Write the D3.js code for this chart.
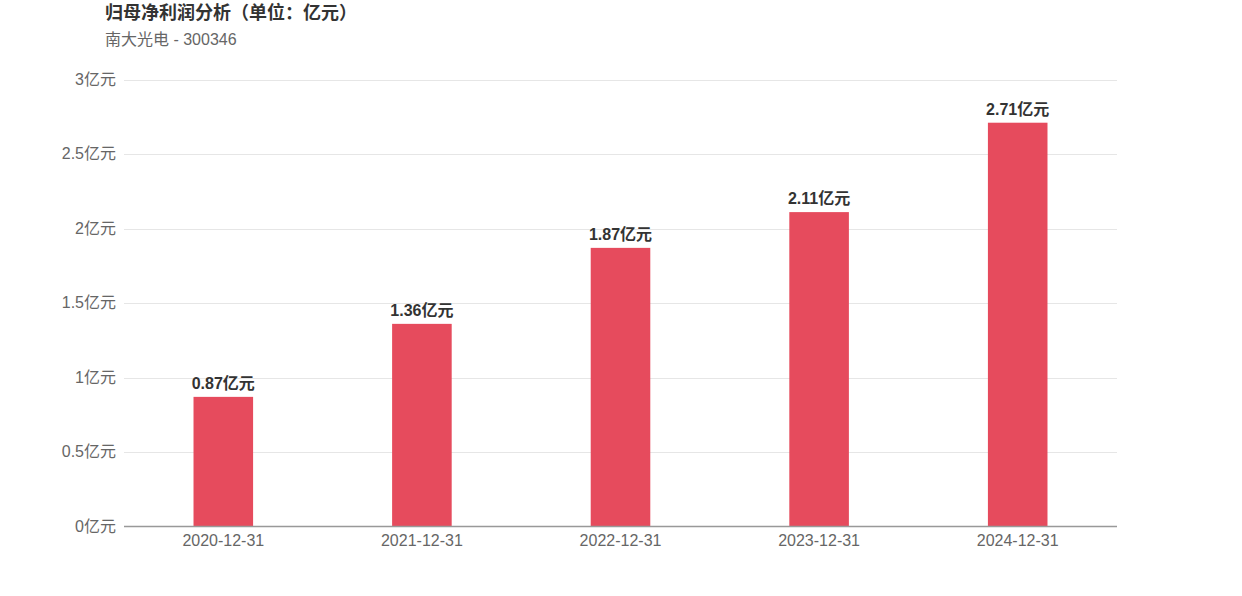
<!DOCTYPE html>
<html>
<head>
<meta charset="utf-8">
<script src="https://cdn.jsdelivr.net/npm/d3@7"></script>
<style>
  body { margin: 0; background: #fff; }
  svg { display: block; font-family: "Liberation Sans", "Noto Sans CJK SC", sans-serif; }
  .t_title { font-size: 18px; font-weight: bold; fill: #333; }
  .t_sub { font-size: 16px; fill: #666; }
  .y-label, .x-label { font-size: 16px; fill: #666; }
  .bar-label { font-size: 16px; font-weight: bold; fill: #333; }
</style>
</head>
<body>
<svg width="1242" height="596"></svg>
<script>
/* ---------- data ---------- */
var categories = ["2020-12-31", "2021-12-31", "2022-12-31", "2023-12-31", "2024-12-31"];
var values = [0.87, 1.36, 1.87, 2.11, 2.71];
var yTicks = [0, 0.5, 1, 1.5, 2, 2.5, 3];

/* ---------- setting ---------- */
var plotLeft = 124, plotRight = 1117, plotTop = 79.5, plotBottom = 526.5;
var barColor = "#e64b5d";

var svg = d3.select("svg");

// header
svg.append("text").attr("class", "t_title").attr("x", 105).attr("y", 19)
  .text("归母净利润分析（单位：亿元）");
svg.append("text").attr("class", "t_sub").attr("x", 105).attr("y", 45)
  .text("南大光电 - 300346");

var x = d3.scaleBand().domain(categories).range([plotLeft, plotRight])
  .paddingInner(0.7).paddingOuter(0.35);
var y = d3.scaleLinear().domain([0, 3]).range([plotBottom, plotTop]);

// grid
svg.append("g").selectAll("line").data(yTicks.filter(d => d > 0)).enter().append("line")
  .attr("x1", plotLeft).attr("x2", plotRight)
  .attr("y1", d => Math.round(y(d)) + 0.5).attr("y2", d => Math.round(y(d)) + 0.5)
  .attr("stroke", "#e6e6e6").attr("stroke-width", 1);

// y labels
svg.append("g").selectAll("text").data(yTicks).enter().append("text")
  .attr("class", "y-label")
  .attr("x", 116).attr("y", d => y(d) + 5)
  .attr("text-anchor", "end")
  .text(d => d + "亿元");

// bars
svg.append("g").selectAll("rect").data(values).enter().append("rect")
  .attr("x", (d, i) => x(categories[i]))
  .attr("width", x.bandwidth())
  .attr("y", d => y(d))
  .attr("height", d => plotBottom - y(d))
  .attr("fill", barColor);

// bar labels
svg.append("g").selectAll("text").data(values).enter().append("text")
  .attr("class", "bar-label")
  .attr("x", (d, i) => x(categories[i]) + x.bandwidth() / 2)
  .attr("y", d => y(d) - 8)
  .attr("text-anchor", "middle")
  .text(d => d.toFixed(2) + "亿元");

// x axis line
svg.append("line")
  .attr("x1", plotLeft).attr("x2", plotRight)
  .attr("y1", plotBottom).attr("y2", plotBottom)
  .attr("stroke", "#999").attr("stroke-width", 1.5);

// x labels
svg.append("g").selectAll("text").data(categories).enter().append("text")
  .attr("class", "x-label")
  .attr("x", d => x(d) + x.bandwidth() / 2)
  .attr("y", 546)
  .attr("text-anchor", "middle")
  .text(d => d);
</script>
</body>
</html>
